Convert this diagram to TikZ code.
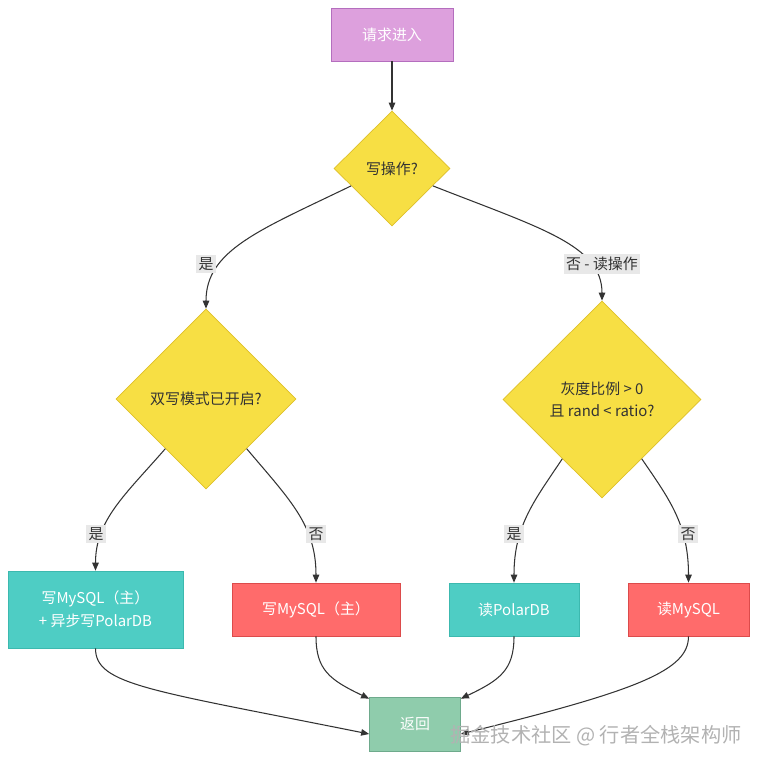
\documentclass[tikz,border=0pt]{standalone}
\usepackage{fontspec}
\setmainfont{Noto Sans CJK SC}
\usepackage{xcolor}
\usepackage{tikz}
\usetikzlibrary{arrows.meta,calc,shapes.geometric}
\definecolor{startpurple}{RGB}{221,160,221}
\definecolor{startline}{RGB}{180,110,190}
\definecolor{judgeyellow}{RGB}{247,223,68}
\definecolor{judgeline}{RGB}{222,192,40}
\definecolor{tealbox}{RGB}{78,205,196}
\definecolor{tealline}{RGB}{60,185,175}
\definecolor{redbox}{RGB}{255,107,107}
\definecolor{redline}{RGB}{220,75,75}
\definecolor{retgreen}{RGB}{143,204,172}
\definecolor{retline}{RGB}{110,170,140}
\definecolor{textdark}{RGB}{51,51,51}
\definecolor{lblgray}{RGB}{232,232,232}

\tikzset{
  box/.style={draw, rectangle, text=white, inner sep=0pt, align=center},
  judge/.style={diamond, draw=judgeline, fill=judgeyellow, text=textdark,
    inner sep=0pt, align=center},
  lbl/.style={fill=lblgray, text=textdark, inner sep=1.5pt},
  flow/.style={->, draw=textdark, line width=0.6pt},
}

\begin{document}
\begin{tikzpicture}[x=0.02cm,y=-0.02cm,>={Triangle[length=1.6mm,width=1.3mm]},
    font=\fontsize{8.5}{13}\selectfont]
    % 像素单位
    \def\pxu{0.02cm}
    \useasboundingbox (0,0) rectangle (765,768);

    % 入口与判断节点
    \node[box, fill=startpurple, draw=startline, minimum width=122*\pxu, minimum height=53*\pxu]
        (start) at (392,34.5) {请求进入};
    \node[judge, minimum width=116*\pxu, minimum height=115*\pxu] (isw) at (392,168.5) {写操作?};
    \node[judge, minimum width=180*\pxu, minimum height=180*\pxu] (dual) at (206,399) {双写模式已开启?};
    \node[judge, minimum width=198*\pxu, minimum height=197*\pxu] (grayck) at (602,399.5)
        {灰度比例 > 0\\且 rand < ratio?};

    % 处理节点
    \node[box, fill=tealbox, draw=tealline, minimum width=175*\pxu, minimum height=77*\pxu]
        (dualw) at (95.5,609.5) {写MySQL（主）\\+ 异步写PolarDB};
    \node[box, fill=redbox, draw=redline, minimum width=168*\pxu, minimum height=53*\pxu]
        (mysqlw) at (316,609.5) {写MySQL（主）};
    \node[box, fill=tealbox, draw=tealline, minimum width=130*\pxu, minimum height=53*\pxu]
        (polarr) at (514,609.5) {读PolarDB};
    \node[box, fill=redbox, draw=redline, minimum width=121*\pxu, minimum height=53*\pxu]
        (mysqlr) at (688.5,609.5) {读MySQL};
    \node[box, fill=retgreen, draw=retline, minimum width=91*\pxu, minimum height=54*\pxu]
        (ret) at (415,724) {返回};

    % 连线
    \draw[flow] (start) -- (isw);
    \draw[flow] ($(isw.west)!0.3!(isw.south)$) .. controls (260,230) and (206,250) .. (dual.north);
    \draw[flow] ($(isw.east)!0.3!(isw.south)$) .. controls (540,228) and (602,245) .. (grayck.north);
    \draw[flow] ($(dual.west)!0.55!(dual.south)$) .. controls (125,495) and (95.5,520) .. (dualw.north);
    \draw[flow] ($(dual.east)!0.55!(dual.south)$) .. controls (290,500) and (316,525) .. (mysqlw.north);
    \draw[flow] ($(grayck.west)!0.6!(grayck.south)$) .. controls (535,500) and (514,525) .. (polarr.north);
    \draw[flow] ($(grayck.east)!0.6!(grayck.south)$) .. controls (670,500) and (688.5,525) .. (mysqlr.north);

    % 汇总到返回
    \draw[flow] (dualw.south) .. controls (95.5,685) and (150,690) .. ([yshift=-10*\pxu]ret.west);
    \draw[flow] (mysqlw.south) .. controls (316,670) and (330,680) .. ([yshift=-2*\pxu]ret.north west);
    \draw[flow] (polarr.south) .. controls (514,670) and (500,680) .. ([yshift=-2*\pxu]ret.north east);
    \draw[flow] (mysqlr.south) .. controls (688.5,670) and (640,690) .. ([yshift=-10*\pxu]ret.east);

    % 分支标签
    \node[lbl] (lyes1) at (206,264) {是};
    \node[lbl] (lno1) at (602,264) {否 - 读操作};
    \node[lbl] (lyes2) at (96,534) {是};
    \node[lbl] (lno2) at (316,534) {否};
    \node[lbl] (lyes3) at (514,534) {是};
    \node[lbl] (lno3) at (688,534) {否};

    % 水印
    \node[text=gray!60, font=\fontsize{11.5}{14}\selectfont] (mark) at (596,736)
        {掘金技术社区 @ 行者全栈架构师};
\end{tikzpicture}
\end{document}
